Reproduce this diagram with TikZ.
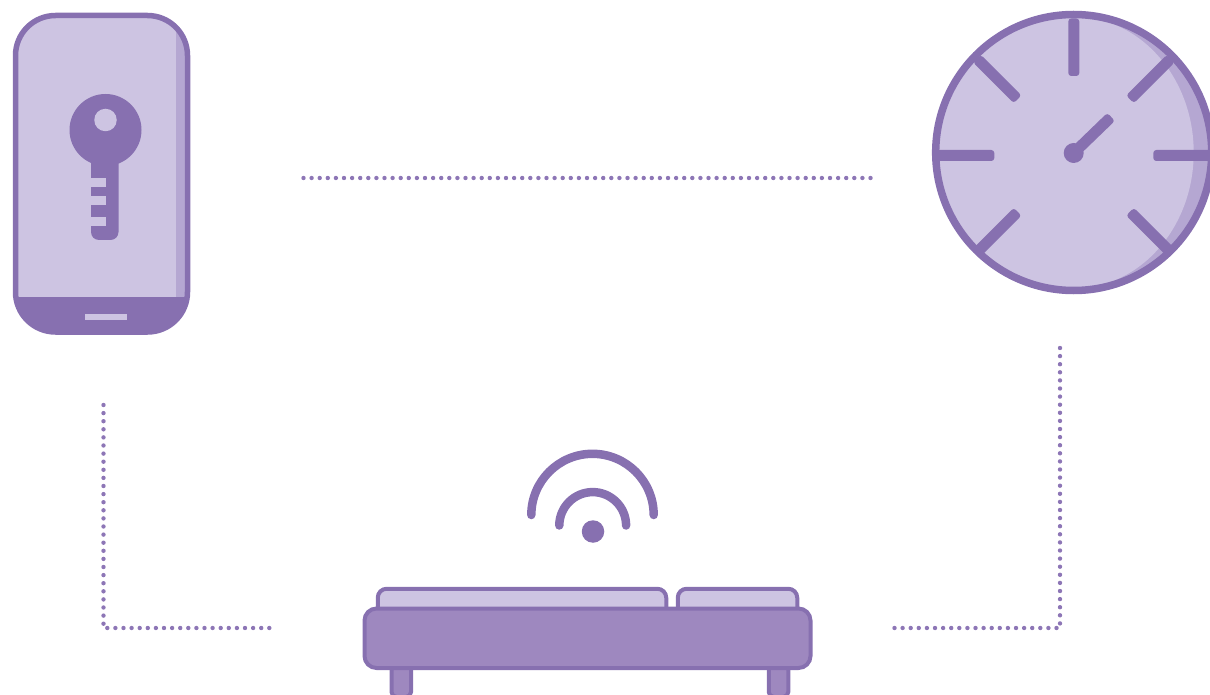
\documentclass[tikz,border=0pt]{standalone}
\usepackage{xcolor}
\usepackage{tikz}
\usetikzlibrary{positioning,calc}
\definecolor{plum}{HTML}{8770B0}
\definecolor{plumdot}{HTML}{8D76B6}
\definecolor{bedbox}{HTML}{9E88BF}
\definecolor{lightbox}{HTML}{CDC4E2}
\definecolor{shadebox}{HTML}{B5A7D2}

\begin{document}
\begin{tikzpicture}[
  x=1pt,y=-1pt,
  box/.style={draw=plum,line width=4pt,rounded corners=9pt,inner sep=0pt,outer sep=0pt},
  disc/.style={circle,fill=plum,inner sep=0pt,outer sep=0pt},
  link/.style={draw=plumdot,line width=4.4pt,line cap=round,dash pattern=on 0pt off 8.1pt},
  wave/.style={draw=plum,line width=8.5pt,line cap=round},
  tickbar/.style={fill=plum,rounded corners=3pt}
]
\path[use as bounding box,clip] (0,0) rectangle (1210,695);

% phone
\node[inner sep=0pt,outer sep=0pt,fill=lightbox,rounded corners=40pt,minimum width=172pt,minimum height=316.5pt] (phone) at (101.5,173.75) {};
\begin{scope}
\clip[rounded corners=40pt] (phone.north west) rectangle (phone.south east);
\fill[shadebox] (176,0) rectangle (190,297);
\fill[plum] (0,297) rectangle (190,340);
\end{scope}
\draw[plum,line width=5.5pt,rounded corners=40pt] (phone.north west) rectangle (phone.south east);
\node[fill=lightbox,inner sep=0pt,minimum width=42pt,minimum height=6pt] (homekey) at (106,317) {};

% key
\node[disc,minimum size=72pt] (keyhead) at (105.5,130) {};
\node[disc,fill=lightbox,minimum size=22.5pt] (keyhole) at (105.5,120) {};
\fill[plum,rounded corners=8pt] (91,155) rectangle (118.5,240);
\foreach \ny in {178,196,217}
  \fill[lightbox] (91,\ny) rectangle (106,\ny+9);

% clock
\node[circle,fill=shadebox,inner sep=0pt,outer sep=0pt,minimum size=276pt] (clock) at (1073.7,152.5) {};
\begin{scope}
\clip (clock) circle (138);
\fill[lightbox] (1073.7,152.5) ellipse [x radius=120,y radius=136];
\fill[lightbox] (930,10) rectangle (1073.7,295);
\end{scope}
\coordinate (tickc) at (1073.8,155.5);
\foreach \a in {0,45,90,135,180,225,315}
  \fill[tickbar,shift={(tickc)},rotate=\a] (79.5,-5.5) rectangle (137,5.5);
\draw[plum,line width=7.5pt] (clock) circle (138);
\node[disc,minimum size=20pt] (hub) at (1073.7,153) {};
\fill[tickbar,shift={(hub)},rotate=44] (0,-5.5) rectangle (52,5.5);

% bed
\node[box,fill=bedbox,rounded corners=5pt,minimum width=19.5pt,minimum height=34pt] (legl) at (401.25,680) {};
\node[box,fill=bedbox,rounded corners=5pt,minimum width=19.5pt,minimum height=34pt] (legr) at (778.5,680) {};
\node[box,fill=lightbox,minimum width=288.5pt,minimum height=34pt] (pillowl) at (522,605.75) {};
\node[box,fill=lightbox,minimum width=119.5pt,minimum height=34pt] (pillowr) at (737.5,605.75) {};
\node[box,fill=bedbox,rounded corners=12pt,minimum width=446pt,minimum height=59.5pt] (bed) at (587.5,638.25) {};

% wifi
\node[disc,minimum size=22.5pt] (signal) at (593,531.5) {};
\coordinate (waveo) at (531.3,515);
\coordinate (wavei) at (559.3,525.5);
\draw[wave] (waveo) arc[start angle=180,end angle=360,radius=61.2];
\draw[wave] (wavei) arc[start angle=180,end angle=360,radius=33.4];

% dotted links
\coordinate (topa) at (303.5,178);
\coordinate (topb) at (873,178);
\coordinate (lefta) at (103.5,405);
\coordinate (leftc) at (103.5,628);
\coordinate (leftb) at (270,628);
\coordinate (righta) at (1060,348);
\coordinate (rightc) at (1060,628);
\coordinate (rightb) at (894,628);
\draw[link] (topa) -- (topb);
\draw[link] (lefta) -- (leftc) -- (leftb);
\draw[link] (righta) -- (rightc) -- (rightb);
\end{tikzpicture}
\end{document}
